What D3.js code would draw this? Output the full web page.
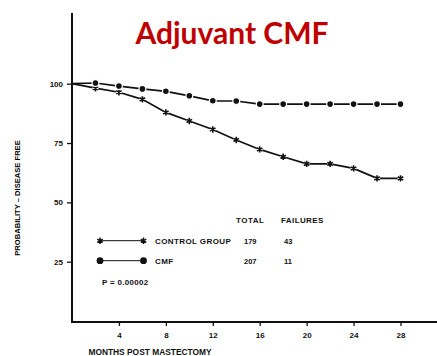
<!DOCTYPE html>
<html>
<head>
<meta charset="utf-8">
<script src="https://cdn.jsdelivr.net/npm/d3@7"></script>
<style>
  html, body { margin: 0; padding: 0; background: #fff; }
  svg { display: block; }
  text { font-family: "Liberation Sans", Arial, sans-serif; font-weight: bold; fill: #111; }
</style>
</head>
<body>
<svg id="chart" width="437" height="356"></svg>
<script>
// Disease-free survival after mastectomy, control vs. adjuvant CMF
const months = [0, 2, 4, 6, 8, 10, 12, 14, 16, 18, 20, 22, 24, 26, 28];
const controlValues = [100, 98.1, 96.4, 93.4, 87.9, 84.3, 80.7, 76.3, 72.3, 69.2, 66.2, 66.2, 64.3, 60.1, 60.1];
const cmfValues = [100, 100.3, 99.0, 97.8, 96.8, 94.9, 92.8, 92.7, 91.4, 91.4, 91.4, 91.4, 91.4, 91.4, 91.4];
const xTicks = [4, 8, 12, 16, 20, 24, 28];
const xTickLabels = ["4", "8", "12", "16", "20", "24", "28"];
const yTicks = [25, 50, 75, 100];
const groupNames = ["CONTROL GROUP", "CMF"];
const groupTotals = ["179", "207"];
const groupFailures = ["43", "11"];
const pValueText = "P = 0.00002";

const svg = d3.select("#chart");

const x = d3.scaleLinear().domain([0, 28]).range([72, 400.5]);
const y = d3.scaleLinear().domain([0, 100]).range([321, 83.7]);

// Title
svg.append("text")
  .attr("x", 232)
  .attr("y", 44)
  .attr("text-anchor", "middle")
  .style("font-family", "Lato, 'Open Sans', sans-serif")
  .style("font-size", "30px")
  .style("font-weight", "bold")
  .style("fill", "#c00000")
  .text("Adjuvant CMF");

// Y axis
const yAxis = svg.append("g")
  .attr("transform", "translate(72,0)")
  .call(d3.axisLeft(y).tickValues(yTicks).tickSize(5).tickPadding(4).tickFormat(d3.format("d")));
yAxis.select(".domain").remove();
yAxis.selectAll(".tick line").attr("stroke", "#111").attr("stroke-width", 1.3);
yAxis.selectAll(".tick text").style("font-size", "8px").style("font-family", "'Liberation Sans', Arial, sans-serif").style("font-weight", "bold").attr("fill", "#111");

// X axis
const xAxis = svg.append("g")
  .attr("transform", "translate(0,322)")
  .call(d3.axisBottom(x).tickValues(xTicks).tickSize(4).tickPadding(6)
    .tickFormat((d, i) => xTickLabels[i]));
xAxis.select(".domain").remove();
xAxis.selectAll(".tick line").attr("stroke", "#111").attr("stroke-width", 1.3);
xAxis.selectAll(".tick text").style("font-size", "8px").style("font-family", "'Liberation Sans', Arial, sans-serif").style("font-weight", "bold").attr("fill", "#111");

// Axis lines
svg.append("line").attr("x1", 72).attr("x2", 72).attr("y1", 13).attr("y2", 322)
  .attr("stroke", "#111").attr("stroke-width", 2);
svg.append("line").attr("x1", 71).attr("x2", 437).attr("y1", 322).attr("y2", 322)
  .attr("stroke", "#111").attr("stroke-width", 2);

// Axis titles
svg.append("text")
  .attr("transform", "translate(20,198) rotate(-90)")
  .attr("text-anchor", "middle")
  .style("font-size", "7.6px")
  .style("fill", "#000")
  .text("PROBABILITY \u2013 DISEASE FREE");

svg.append("text")
  .attr("x", 150)
  .attr("y", 355)
  .attr("text-anchor", "middle")
  .style("font-size", "8.4px")
  .text("MONTHS POST MASTECTOMY");

// Series
const line = d3.line().x(d => x(d[0])).y(d => y(d[1]));
const controlData = months.map((m, i) => [m, controlValues[i]]);
const cmfData = months.map((m, i) => [m, cmfValues[i]]);

const star = d3.symbol().type(d3.symbolAsterisk).size(28);

function drawSeries(data, kind) {
  svg.append("path")
    .datum(data)
    .attr("d", line)
    .attr("fill", "none")
    .attr("stroke", "#111")
    .attr("stroke-width", 1.7);
  const pts = data.slice(1);
  if (kind === "circle") {
    svg.append("g").selectAll("circle").data(pts).join("circle")
      .attr("cx", d => x(d[0])).attr("cy", d => y(d[1])).attr("r", 3.4)
      .attr("fill", "#111").attr("stroke", "#fff").attr("stroke-width", 1.2);
  } else {
    const g = svg.append("g");
    g.selectAll("circle").data(pts).join("circle")
      .attr("cx", d => x(d[0])).attr("cy", d => y(d[1])).attr("r", 3)
      .attr("fill", "#fff");
    g.selectAll("path").data(pts).join("path")
      .attr("transform", d => `translate(${x(d[0])},${y(d[1])})`)
      .attr("d", star)
      .attr("fill", "none").attr("stroke", "#111").attr("stroke-width", 1.6);
  }
}
drawSeries(controlData, "star");
drawSeries(cmfData, "circle");

// Legend
const legendRows = [240.7, 260.7];
svg.append("text").attr("x", 236).attr("y", 223).style("font-size", "8px").style("letter-spacing", "0.5px").text("TOTAL");
svg.append("text").attr("x", 281).attr("y", 223).style("font-size", "8px").style("letter-spacing", "0.4px").text("FAILURES");

legendRows.forEach((ly, i) => {
  svg.append("line").attr("x1", 100).attr("x2", 143.5).attr("y1", ly).attr("y2", ly)
    .attr("stroke", "#111").attr("stroke-width", 1);
  [100, 143.5].forEach(lx => {
    if (i === 0) {
      svg.append("path").attr("transform", `translate(${lx},${ly})`).attr("d", star)
        .attr("fill", "none").attr("stroke", "#111").attr("stroke-width", 1.5);
    } else {
      svg.append("circle").attr("cx", lx).attr("cy", ly).attr("r", 3.4).attr("fill", "#111");
    }
  });
  svg.append("text").attr("x", 155).attr("y", ly + 3).style("font-size", "8px").style("letter-spacing", "0.4px").text(groupNames[i]);
  svg.append("text").attr("x", 244).attr("y", ly + 3).style("font-size", "7.5px").text(groupTotals[i]);
  svg.append("text").attr("x", 284).attr("y", ly + 3).style("font-size", "7.5px").text(groupFailures[i]);
});

svg.append("text").attr("x", 102).attr("y", 284.5).style("font-size", "8px").style("letter-spacing", "0.3px").text(pValueText);
</script>
</body>
</html>
